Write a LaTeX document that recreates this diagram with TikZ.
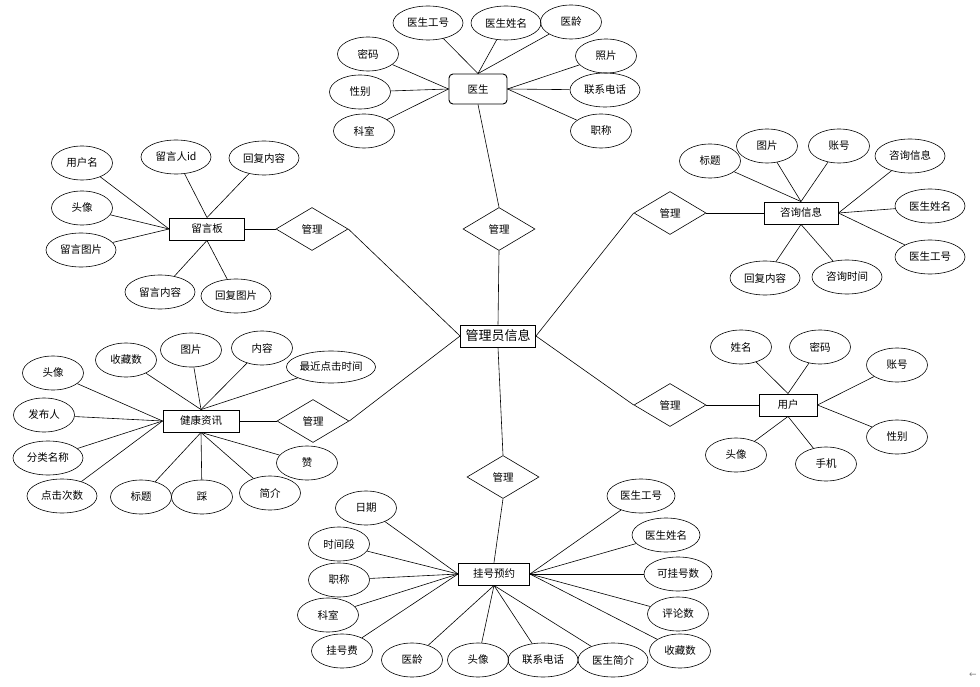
\documentclass[tikz,border=0pt]{standalone}
\usepackage{fontspec}
\usetikzlibrary{shapes.geometric}
\newfontfamily\cjkfont{Noto Sans CJK SC}
\newfontfamily\symfont{DejaVu Sans}

\tikzset{
  attr/.style   = {draw, ellipse, line width=0.6pt, minimum width=61pt, minimum height=34pt,
                   inner sep=0pt, font=\cjkfont\fontsize{10.5}{12}\selectfont},
  wide/.style   = {minimum width=70pt},
  entity/.style = {draw, rectangle, line width=0.9pt, minimum height=22pt,
                   inner sep=0pt, font=\cjkfont\fontsize{10.5}{12}\selectfont},
  rel/.style    = {draw, diamond, line width=0.6pt, minimum width=72pt, minimum height=43pt,
                   inner sep=0pt, font=\cjkfont\fontsize{10.5}{12}\selectfont},
  link/.style   = {line width=0.6pt}
}

\begin{document}
\begin{tikzpicture}[x=1pt, y=-1pt]
            \useasboundingbox (0,0) rectangle (980,687);

            \node[entity, minimum width=75pt, font=\cjkfont\fontsize{13}{15}\selectfont] (admin) at (498,336) {管理员信息};

            \node[entity, rounded corners=4pt, minimum width=58pt, minimum height=30pt] (doc) at (478, 89) {医生};
            \node[entity, minimum width=75pt] (board)   at (207,229) {留言板};
            \node[entity, minimum width=74pt] (consult) at (801,213) {咨询信息};
            \node[entity, minimum width=76pt] (health)  at (201,421) {健康资讯};
            \node[entity, minimum width=58pt] (user)    at (788,405) {用户};
            \node[entity, minimum width=71pt] (appt)    at (494,574) {挂号预约};

            \node[rel] (rdoc)     at (499,229) {管理};
            \node[rel] (rboard)   at (312,229) {管理};
            \node[rel] (rconsult) at (670,213) {管理};
            \node[rel] (rhealth)  at (313,421) {管理};
            \node[rel] (ruser)    at (670,405) {管理};
            \node[rel] (rappt)    at (503,477) {管理};

            \node[attr, wide] (dno)    at (428, 23) {医生工号};
            \node[attr, wide] (dname)  at (506, 23) {医生姓名};
            \node[attr]       (dage)   at (571, 22) {医龄};
            \node[attr]       (dpwd)   at (368, 54) {密码};
            \node[attr]       (dsex)   at (360, 92) {性别};
            \node[attr]       (ddept)  at (364,131) {科室};
            \node[attr]       (dphoto) at (606, 56) {照片};
            \node[attr, wide] (dtel)   at (605, 90) {联系电话};
            \node[attr]       (dtitle) at (601,131) {职称};

            \node[attr]       (buser)  at ( 82,163) {用户名};
            \node[attr, wide] (bid)    at (176,157) {留言人id};
            \node[attr, wide] (breply) at (264,158) {回复内容};
            \node[attr]       (bhead)  at ( 82,208) {头像};
            \node[attr, wide] (bimg)   at ( 81,250) {留言图片};
            \node[attr, wide] (btext)  at (160,292) {留言内容};
            \node[attr, wide] (brimg)  at (236,296) {回复图片};

            \node[attr]       (ctitle) at (710,161) {标题};
            \node[attr]       (cimg)   at (767,146) {图片};
            \node[attr]       (cacc)   at (839,146) {账号};
            \node[attr, wide] (cinfo)  at (910,156) {咨询信息};
            \node[attr, wide] (cdname) at (930,206) {医生姓名};
            \node[attr, wide] (cdno)   at (930,257) {医生工号};
            \node[attr, wide] (creply) at (765,278) {回复内容};
            \node[attr, wide] (ctime)  at (847,277) {咨询时间};

            \node[attr]       (hhead)  at ( 53,373) {头像};
            \node[attr]       (hfav)   at (126,360) {收藏数};
            \node[attr]       (himg)   at (191,350) {图片};
            \node[attr]       (htext)  at (262,348) {内容};
            \node[attr, minimum width=82pt, minimum height=32pt] (hlast) at (331,367) {最近点击时间};
            \node[attr]       (hpub)   at ( 44,415) {发布人};
            \node[attr, wide] (hcat)   at ( 48,458) {分类名称};
            \node[attr, wide] (hclick) at ( 62,496) {点击次数};
            \node[attr]       (htitle) at (141,497) {标题};
            \node[attr]       (hdown)  at (202,497) {踩};
            \node[attr]       (hintro) at (270,493) {简介};
            \node[attr]       (hup)    at (307,463) {赞};

            \node[attr]       (uname)  at (741,347) {姓名};
            \node[attr]       (upwd)   at (820,347) {密码};
            \node[attr]       (uacc)   at (897,365) {账号};
            \node[attr]       (usex)   at (897,437) {性别};
            \node[attr]       (uhead)  at (736,455) {头像};
            \node[attr]       (uphone) at (826,464) {手机};

            \node[attr]       (adate)  at (366,508) {日期};
            \node[attr]       (aslot)  at (339,544) {时间段};
            \node[attr]       (atitle) at (339,580) {职称};
            \node[attr]       (adept)  at (328,615) {科室};
            \node[attr]       (afee)   at (342,651) {挂号费};
            \node[attr]       (aage)   at (412,660) {医龄};
            \node[attr]       (ahead)  at (478,660) {头像};
            \node[attr, wide] (atel)   at (543,660) {联系电话};
            \node[attr, wide] (aintro) at (613,660) {医生简介};
            \node[attr]       (afav)   at (680,651) {收藏数};
            \node[attr]       (acmt)   at (678,614) {评论数};
            \node[attr, minimum width=68pt] (aquota) at (678,574) {可挂号数};
            \node[attr, minimum width=68pt] (adname) at (666,535) {医生姓名};
            \node[attr, minimum width=68pt] (adno)   at (641,496) {医生工号};

            \node[text=gray, font=\symfont\fontsize{9}{9}\selectfont] (back) at (973,675) {←};

            \foreach \a in {dno,dname,dage}       \draw[link] (\a) -- (doc.north);
            \foreach \a in {dpwd,dsex,ddept}      \draw[link] (\a) -- (doc.west);
            \foreach \a in {dphoto,dtel,dtitle}   \draw[link] (\a) -- (doc.east);
            \draw[link] (doc.south) -- (rdoc.north);
            \draw[link] (rdoc.south) -- (admin.north);

            \foreach \a in {buser,bhead,bimg}     \draw[link] (\a) -- (board.west);
            \foreach \a in {bid,breply}           \draw[link] (\a) -- (board.north);
            \foreach \a in {btext,brimg}          \draw[link] (\a) -- (board.south);
            \draw[link] (board.east) -- (rboard.west);
            \draw[link] (rboard.east) -- (admin.west);

            \foreach \a in {ctitle,cimg,cacc}     \draw[link] (\a) -- (consult.north);
            \foreach \a in {cinfo,cdname,cdno}    \draw[link] (\a) -- (consult.east);
            \foreach \a in {creply,ctime}         \draw[link] (\a) -- (consult.south);
            \draw[link] (rconsult.east) -- (consult.west);
            \draw[link] (rconsult.west) -- (admin.east);

            \foreach \a in {hhead,hpub,hcat,hclick} \draw[link] (\a) -- (health.west);
            \foreach \a in {hfav,himg,htext,hlast}  \draw[link] (\a) -- (health.north);
            \foreach \a in {htitle,hdown,hintro,hup} \draw[link] (\a) -- (health.south);
            \draw[link] (health.east) -- (rhealth.west);
            \draw[link] (rhealth.east) -- (admin.west);

            \foreach \a in {uname,upwd}           \draw[link] (\a) -- (user.north);
            \foreach \a in {uacc,usex}            \draw[link] (\a) -- (user.east);
            \foreach \a in {uhead,uphone}         \draw[link] (\a) -- (user.south);
            \draw[link] (ruser.east) -- (user.west);
            \draw[link] (ruser.west) -- (admin.east);

            \foreach \a in {adate,aslot,atitle,adept,afee} \draw[link] (\a) -- (appt.west);
            \foreach \a in {aage,ahead,atel,aintro}        \draw[link] (\a) -- (appt.south);
            \foreach \a in {afav,acmt,aquota,adname,adno}  \draw[link] (\a) -- (appt.east);
            \draw[link] (rappt.south) -- (appt.north);
            \draw[link] (rappt.north) -- (admin.south);
            \end{tikzpicture}
\end{document}
